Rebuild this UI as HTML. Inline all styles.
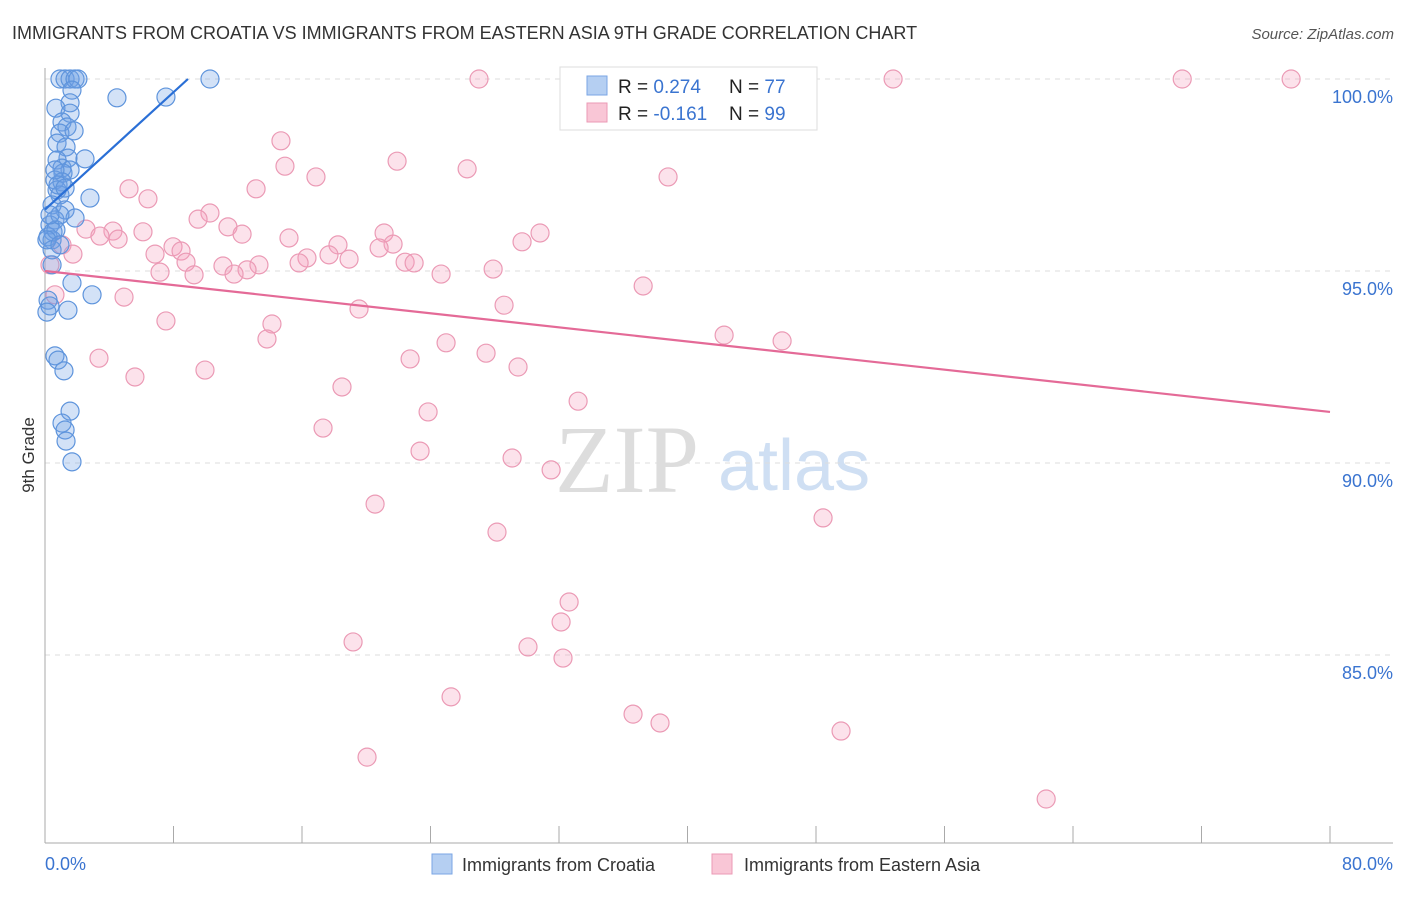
<!DOCTYPE html>
<html><head><meta charset="utf-8"><style>
body{margin:0;background:#fff;font-family:"Liberation Sans",sans-serif}
</style></head><body>
<svg id="c" width="1406" height="892" xmlns="http://www.w3.org/2000/svg" font-family="Liberation Sans, sans-serif">
<text x="12" y="39" font-size="18" fill="#333">IMMIGRANTS FROM CROATIA VS IMMIGRANTS FROM EASTERN ASIA 9TH GRADE CORRELATION CHART</text>
<text x="1394" y="39" font-size="15" fill="#555" text-anchor="end" font-style="italic">Source: ZipAtlas.com</text>
<text x="555" y="492" font-size="96" fill="#ddd" font-family="Liberation Serif, serif">ZIP</text>
<text x="718" y="490" font-size="72" fill="#cfdff3">atlas</text>
<g id="grid"></g><g id="pts"></g><g id="trend"></g>
<text transform="translate(34,455) rotate(-90)" font-size="17" fill="#333" text-anchor="middle">9th Grade</text>
<text x="45" y="870" font-size="18" fill="#3a74d0">0.0%</text>
<text x="1393" y="870" font-size="18" fill="#3a74d0" text-anchor="end">80.0%</text>
<g>
<rect x="560" y="67" width="257" height="63" fill="#fff" stroke="#ddd"/>
<rect x="587" y="76" width="20" height="19" fill="#b5cff2" stroke="#7aa6e4"/>
<rect x="587" y="103" width="20" height="19" fill="#f9c6d6" stroke="#eb9ab5"/>
<text x="618" y="93" font-size="19" fill="#222">R = <tspan fill="#3a74d0">0.274</tspan></text>
<text x="729" y="93" font-size="19" fill="#222">N = <tspan fill="#3a74d0">77</tspan></text>
<text x="618" y="120" font-size="19" fill="#222">R = <tspan fill="#3a74d0">-0.161</tspan></text>
<text x="729" y="120" font-size="19" fill="#222">N = <tspan fill="#3a74d0">99</tspan></text>
</g>
<g>
<rect x="432" y="854" width="20" height="20" fill="#b5cff2" stroke="#7aa6e4"/>
<text x="462" y="871" font-size="18" fill="#333">Immigrants from Croatia</text>
<rect x="712" y="854" width="20" height="20" fill="#f9c6d6" stroke="#eb9ab5"/>
<text x="744" y="871" font-size="18" fill="#333">Immigrants from Eastern Asia</text>
</g>
</svg>
<script>
const yTicks=[100,95,90,85];
const yTickLabels=["100.0%","95.0%","90.0%","85.0%"];
const xTicks=[0,8,16,24,32,40,48,56,64,72,80];
const blueX=[0.93,1.25,1.56,1.87,2.05,10.27,4.48,7.53,1.68,1.56,0.68,1.56,1.06,1.37,0.93,1.81,0.75,1.31,1.43,2.49,0.75,1.06,1.56,1.12,0.62,1.06,0.75,0.93,2.8,0.44,1.25,1.87,0.62,0.31,0.5,0.19,0.44,0.68,0.44,1.68,2.93,0.19,0.31,1.43,0.12,0.62,0.81,1.18,1.56,1.06,1.25,1.31,1.68,0.93,0.31,0.81,1.25,0.62,0.44,0.12,0.93];
const blueY=[100,100,100,100,100,100,99.51,99.53,99.71,99.38,99.24,99.11,98.88,98.75,98.59,98.65,98.33,98.23,97.94,97.92,97.89,97.68,97.63,97.55,97.37,97.32,97.11,96.98,96.9,96.72,96.59,96.38,96.33,96.2,96.02,95.89,95.81,96.07,95.16,94.69,94.38,94.24,94.09,93.98,93.93,92.79,92.68,92.4,91.35,91.04,90.86,90.57,90.03,96.46,96.46,97.24,97.16,97.63,95.55,95.81,95.68];
const pinkX=[27.02,34.12,37.8,43.03,52.8,70.8,77.58,14.69,14.94,21.92,16.87,26.28,38.79,5.23,6.41,13.14,10.27,9.53,11.39,12.27,4.23,6.1,2.55,3.42,4.55,21.11,30.82,29.7,15.19,18.24,21.67,20.8,7.97,8.47,6.85,17.68,16.31,18.93,15.82,8.78,11.08,13.32,22.42,22.98,12.58,7.16,9.28,11.77,27.9,24.66,1.06,1.74,0.31,0.62,4.92,28.58,37.24,19.55,7.53,14.13,13.82,24.97,27.46,42.28,45.89,3.36,22.73,29.45,5.6,9.96,18.49,33.19,23.85,17.31,23.35,29.08,31.51,20.55,48.44,28.14,32.63,32.13,19.18,30.07,32.25,25.28,36.61,38.29,49.56,20.05,62.33];
const pinkY=[100,100,100,100,100,100,100,98.39,97.73,97.86,97.45,97.66,97.45,97.14,96.88,97.14,96.51,96.35,96.15,95.96,96.04,96.02,96.09,95.91,95.83,95.99,95.99,95.76,95.86,95.68,95.7,95.6,95.63,95.52,95.44,95.42,95.34,95.31,95.21,95.23,95.13,95.16,95.23,95.21,95.03,94.97,94.9,94.92,95.05,94.92,95.68,95.44,95.16,94.38,94.32,94.11,94.61,94.01,93.7,93.62,93.23,93.13,92.86,93.33,93.18,92.73,92.71,92.5,92.24,92.42,91.98,91.61,91.33,90.91,90.31,90.13,89.82,88.93,88.57,88.2,86.38,85.86,85.34,85.21,84.92,83.91,83.46,83.23,83.02,82.34,81.25];
const blueTrend=[[0,96.6],[8.9,100]];
const pinkTrend=[[0,95.0],[80,91.33]];
const NS="http://www.w3.org/2000/svg";
const X0=45,X1=1330,Y0=79,YB=843;
function sx(v){return X0+(v/80)*(X1-X0);}
function sy(v){return Y0+(100-v)*38.4;}
function mk(t,a,p){const e=document.createElementNS(NS,t);for(const k in a)e.setAttribute(k,a[k]);p.appendChild(e);return e;}
const g=document.getElementById('grid');
yTicks.forEach((t,i)=>{
 const l=mk('line',{x1:X0,x2:1393,y1:sy(t),y2:sy(t),stroke:'#ddd','stroke-dasharray':'5,5'},g);
 
 
 const tx=mk('text',{x:1393,y:sy(t)+24,'font-size':18,fill:'#3a74d0','text-anchor':'end'},g);
 tx.textContent=yTickLabels[i];
 
 
});
const ax=mk('line',{x1:X0,x2:X0,y1:68,y2:YB,stroke:'#aaa'},g);


const bx=mk('line',{x1:X0,x2:1393,y1:YB,y2:YB,stroke:'#aaa'},g);


xTicks.forEach(t=>{
 const l=mk('line',{x1:sx(t),x2:sx(t),y1:826,y2:YB,stroke:'#aaa'},g);
 
 
});
const p=document.getElementById('pts');
pinkX.forEach((v,i)=>{
 const c=mk('circle',{cx:sx(v),cy:sy(pinkY[i]),r:9,fill:'rgba(244,160,188,0.3)',stroke:'#eb9ab5','stroke-width':1.2},p);
 
 
});
blueX.forEach((v,i)=>{
 const c=mk('circle',{cx:sx(v),cy:sy(blueY[i]),r:9,fill:'rgba(110,160,230,0.3)',stroke:'#5e94dc','stroke-width':1.2},p);
 
 
});
const tr=document.getElementById('trend');
const bl=mk('line',{x1:sx(blueTrend[0][0]),y1:sy(blueTrend[0][1]),x2:sx(blueTrend[1][0]),y2:sy(blueTrend[1][1]),stroke:'#2a6fd6','stroke-width':2.2},tr);


const pl=mk('line',{x1:sx(pinkTrend[0][0]),y1:sy(pinkTrend[0][1]),x2:sx(pinkTrend[1][0]),y2:sy(pinkTrend[1][1]),stroke:'#e46a97','stroke-width':2.2},tr);


</script>
</body></html>
